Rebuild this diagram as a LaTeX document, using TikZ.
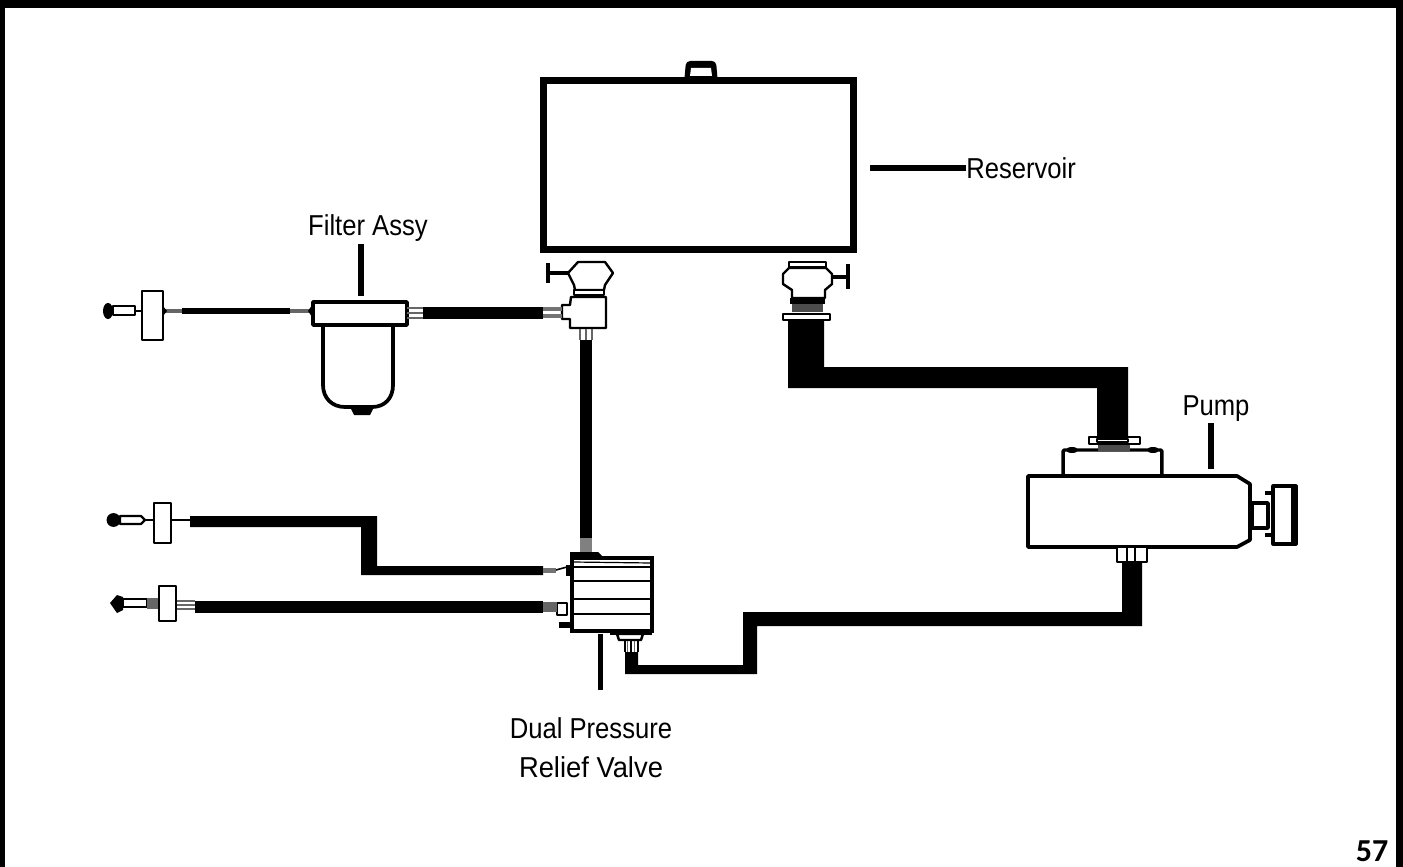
\documentclass[tikz,border=0pt]{standalone}
\usepackage{fontspec}
\setmainfont{Liberation Sans}
\newfontfamily\labelfont[FakeStretch=0.89]{Liberation Sans}
\newfontfamily\widelabelfont[FakeStretch=0.95]{Liberation Sans}
\newfontfamily\pagefont[Ligatures=TeX]{Carlito}
\tikzset{
  part/.style={draw=black,line width=2.6pt,fill=white,line join=round},
  thinpart/.style={draw=black,line width=1.8pt,fill=white,line join=round},
  stripe/.style={draw=black!55,line width=3.2pt},
  stripe thin/.style={draw=black!60,line width=1.2pt},
  leader/.style={draw=black,line width=3.8pt},
  lab/.style={font=\labelfont\fontsize{21.6}{26}\selectfont,text=black,inner sep=0pt,align=center},
}
\begin{document}
\begin{tikzpicture}[x=0.75pt,y=-0.75pt]
\useasboundingbox (0,0) rectangle (1403,867);
% frame
\fill[white] (0,0) rectangle (1403,867);
\fill[black] (0,0) rectangle (1403,8);
\fill[black] (0,0) rectangle (5,867);
\fill[black] (1396,0) rectangle (1403,867);
\node[font=\pagefont\bfseries\fontsize{24}{28}\selectfont,inner sep=0pt] (page) at (1372,851) {57};

% reservoir
\fill[black,rounded corners=3pt] (684,84) -- (686,61) -- (716,61) -- (718,84) -- cycle;
\fill[white] (691,68) -- (711,68) -- (712,76) -- (690,76) -- cycle;
\node[draw=black,line width=5.3pt,minimum width=232.5pt,minimum height=126.8pt,inner sep=0pt] (reservoir) at (698.25,164.75) {};
\node[lab,anchor=west] (reservoirlabel) at (966,168) {Reservoir};
\draw[leader] (870,168) -- (reservoirlabel.west);

% left valve on reservoir
\coordinate (lhandle) at (548,273);
\draw[line width=3pt] (548,263) -- (548,283);
\draw[line width=3pt] (lhandle) -- (570,273);
\draw[thinpart] (578,262) -- (605,262) -- (613,273) -- (605,285) -- (604,290) -- (575,290) -- (574,285) -- (568,273) -- cycle;
\draw[thinpart] (574,290) -- (604,290) -- (604,295) -- (574,295) -- cycle;
\draw[thinpart] (571,297) -- (606,297) -- (606,328) -- (570,328) -- (570,319) -- (562,319) -- (562,305) -- (570,305) -- cycle;
\coordinate (teeleft) at (562,312.5);
\coordinate (teebottom) at (586,328);

% right valve on reservoir
\draw[line width=3pt] (848,264) -- (848,289);
\draw[line width=3pt] (832,277) -- (848,277);
\draw[thinpart] (789,262) -- (826,262) -- (826,267) -- (789,267) -- cycle;
\draw[thinpart] (789,268) -- (826,268) -- (832,274) -- (832,284) -- (825,290) -- (825,298) -- (792,298) -- (792,290) -- (783,284) -- (783,274) -- cycle;
\fill[black] (790,298) rectangle (825,304);
\fill[black!70] (792,304) rectangle (823,312);
\draw[thinpart] (783,314) -- (830,314) -- (830,320) -- (783,320) -- cycle;

% thick pipe reservoir to pump
\fill[black] (788,321) -- (824,321) -- (824,367) -- (1128,367) -- (1128,436) -- (1097,436) -- (1097,388) -- (788,388) -- cycle;

% pump
\node[part,minimum width=74.2pt,minimum height=19.5pt,inner sep=0pt,rounded corners=1pt] (pumptop) at (1112.5,463) {};
\fill[black] (1072,450) ellipse (6 and 3);
\fill[black] (1153,450) ellipse (6 and 3);
\fill[black!70] (1098,444) rectangle (1130,451);
\draw[thinpart] (1089,437) rectangle (1140,444);
\draw[thinpart,fill=white,line width=1.5pt] (1097,439) -- (1128,439) -- (1128,442) -- (1097,442) -- cycle;
\draw[part,line width=2.8pt] (1028,476) -- (1237,476) -- (1250,484) -- (1250,540) -- (1237,547) -- (1028,547) -- cycle;
\coordinate (pumpright) at (1250,515);
\draw[part] (1252,503) rectangle (1268,528);
\draw[line width=2.4pt] (1265,493) -- (1274,493);
\draw[line width=2.4pt] (1265,535) -- (1274,535);
\draw[thinpart,line width=2.4pt] (1273,486) rectangle (1296,544);
\fill[black] (1291,485) rectangle (1297,545);
\draw[thinpart] (1117,547) rectangle (1147,562);
\draw[line width=1.2pt] (1127,547) -- (1127,562) (1135,547) -- (1135,562);
\node[lab,anchor=base] (pumplabel) at (1216,415) {Pump};
\coordinate (pumplead) at (1211,423);
\draw[leader] (pumplead) -- (1211,469);

% return pipe pump to relief valve
\fill[black] (1122,562) -- (1142,562) -- (1142,626) -- (757,626) -- (757,674) -- (625,674) -- (625,652) -- (638,652) -- (638,665) -- (743,665) -- (743,612) -- (1122,612) -- cycle;

% relief valve
\fill[black] (570,552) -- (598,552) -- (603,557) -- (570,560) -- cycle;
\fill[black] (566,565) rectangle (572,576);
\fill[black] (559,622) rectangle (572,628);
\fill[black] (610,631) rectangle (652,635);
\draw[thinpart] (617,634) -- (643,634) -- (641,640) -- (619,640) -- cycle;
\draw[thinpart,fill=white] (557,603) rectangle (567,615);
\node[draw=black,line width=2.6pt,fill=white,minimum width=60pt,minimum height=55pt,inner sep=0pt] (relief) at (612,594.5) {};
\draw[line width=0.9pt] (573,562) -- (651,563);
\draw[line width=1.3pt] (573,567) -- (651,567);
\draw[line width=1.3pt] (573,581) -- (651,581);
\draw[line width=1.3pt] (573,599) -- (651,599);
\draw[line width=1.8pt] (573,614) -- (651,614);
\coordinate (rvbottom) at (631,641);
\draw[stripe thin] (627.5,641) -- (627.5,652) (634.5,641) -- (634.5,652);
\draw[line width=1.1pt] (625,641) -- (625,652) (631,641) -- (631,652) (638,641) -- (638,652);
\draw[leader] (600.5,634) -- (600.5,690);
\node[lab] (rvlabel) at (591,728) {Dual Pressure};
\node[lab,font=\widelabelfont\fontsize{21.6}{26}\selectfont] (rvlabeltwo) at (591,767) {Relief Valve};

% filter assembly
\coordinate (ffit) at (103,311);
\fill[black] (108,311) ellipse (5 and 8);
\draw[thinpart,line width=1.6pt] (113,306) rectangle (135,315);
\draw[line width=1.5pt] (135,311) -- (141,311);
\draw[thinpart] (142,291) rectangle (163,340);
\draw[line width=2.5pt,black!60] (163,311) -- (310,311);
\draw[line width=4pt] (182,311) -- (290,311);
\fill[black] (163,306) -- (167,311) -- (163,316) -- cycle;
\fill[black] (312,305) -- (308,311) -- (312,317) -- cycle;
\draw[part,line width=2.8pt] (323,325) -- (323,385) .. controls (323,398) and (332,407) .. (345,407) -- (372,407) .. controls (385,407) and (393,398) .. (393,385) -- (393,325);
\fill[black] (350,407) -- (374,407) -- (370,415) -- (354,415) -- cycle;
\draw[part,line width=2.8pt] (313,302) rectangle (407,325);
\node[lab] (filterlabel) at (368,228) {Filter Assy};
\draw[leader] (361,244) -- (361,296);
\draw[stripe thin] (407,308) -- (423,308) (407,313) -- (423,313) (407,318) -- (423,318);
\fill[black] (423,306.5) rectangle (543,319);
\draw[stripe] (543,309) -- (562,309) (543,316) -- (562,316);
\draw[line width=9.5pt] (586,340) -- (586,538);
\draw[stripe thin] (580,329) -- (580,340) (586,329) -- (586,340) (592,329) -- (592,340);
\fill[black!50] (580,538) rectangle (592,552);

% second line
\fill[black] (113.5,520) circle (5.2pt);
\draw[thinpart,line width=1.6pt] (120,516) -- (141,516) -- (145,520) -- (141,524) -- (120,524) -- cycle;
\draw[line width=1.5pt] (145,520) -- (153,520);
\draw[thinpart] (154,503) rectangle (171,543);
\draw[line width=1.5pt] (172,520) -- (190,520);
\fill[black] (190,516) -- (377,516) -- (377,566) -- (543,566) -- (543,575) -- (361,575) -- (361,527) -- (190,527) -- cycle;
\draw[stripe] (543,570.5) -- (556,570.5);
\draw[line width=1.2pt] (556,570) -- (567,567);

% third line
\fill[black] (110,603) -- (117,595) -- (123,597) -- (123,610) -- (117,613) -- cycle;
\draw[thinpart,line width=1.6pt] (123,599) rectangle (147,607);
\fill[black!60] (147,598) rectangle (158,609);
\draw[thinpart] (159,586) rectangle (176,621);
\draw[stripe thin] (177,601) -- (195,601) (177,605) -- (195,605) (177,609) -- (195,609);
\fill[black] (195,601) rectangle (543,613);
\fill[black!60] (543,602) rectangle (557,612);
\end{tikzpicture}
\end{document}
